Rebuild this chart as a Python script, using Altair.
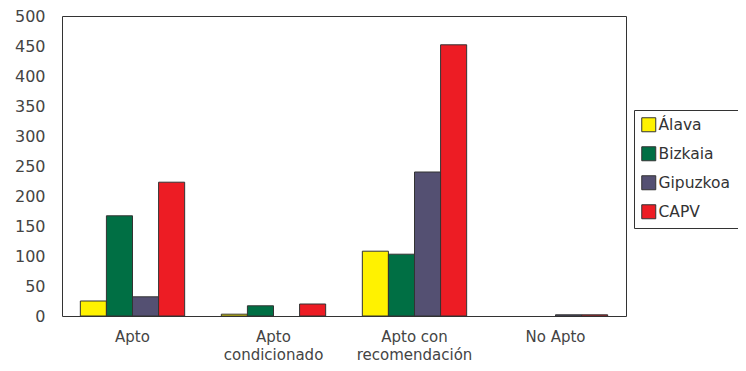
import altair as alt
import pandas as pd

categories = ["Apto", "Apto\ncondicionado", "Apto con\nrecomendación", "No Apto"]
series = ["Álava", "Bizkaia", "Gipuzkoa", "CAPV"]
alava = [25, 3, 108, 0]
bizkaia = [167, 17, 103, 0]
gipuzkoa = [32, 0, 240, 2]
capv = [223, 20, 452, 2]
colors = ["#FFF200", "#006F44", "#545072", "#ED1C24"]

rows = []
for s, vals in zip(series, [alava, bizkaia, gipuzkoa, capv]):
    for c, v in zip(categories, vals):
        rows.append({"cat": c, "serie": s, "val": v})
df = pd.DataFrame(rows)

font = "DejaVu Sans"

chart = alt.Chart(df).transform_filter("datum.val > 0").mark_bar(
    stroke="#333333", strokeWidth=1
).encode(
    x=alt.X("cat:N", sort=categories, title=None,
            scale=alt.Scale(domain=categories, paddingInner=0.26, paddingOuter=0.13),
            axis=alt.Axis(labelAngle=0, labelExpr="split(datum.label, '\\n')",
                          ticks=False, domain=False, labelFontSize=15,
                          labelColor="#444444", labelFont=font, labelPadding=13,
                          labelLineHeight=18)),
    xOffset=alt.XOffset("serie:N", sort=series, scale=alt.Scale(domain=series)),
    y=alt.Y("val:Q", title=None,
            scale=alt.Scale(domain=[0, 500]),
            axis=alt.Axis(values=list(range(0, 501, 50)), grid=False, ticks=False,
                          domain=False, labelFontSize=16, labelColor="#444444",
                          labelFont=font, labelPadding=17)),
    color=alt.Color("serie:N", sort=series,
                    scale=alt.Scale(domain=series, range=colors),
                    legend=alt.Legend(title=None, orient="none", legendX=572, legendY=94,
                                      strokeColor="#333333", padding=7,
                                      symbolType="square", symbolSize=196,
                                      symbolStrokeColor="#333333", symbolStrokeWidth=1,
                                      labelFontSize=15.5, labelFont=font, labelOffset=2,
                                      labelColor="#333333", rowPadding=10,
                                      symbolOpacity=1)),
).properties(
    width=564, height=300,
    autosize=alt.AutoSizeParams(type="none"),
    padding={"left": 54, "top": 8, "right": 112, "bottom": 47}
).configure(
    background="white"
).configure_view(
    stroke="#333333", strokeWidth=1
)

chart.save("out.html", embed_options={"renderer": "svg", "actions": False})
